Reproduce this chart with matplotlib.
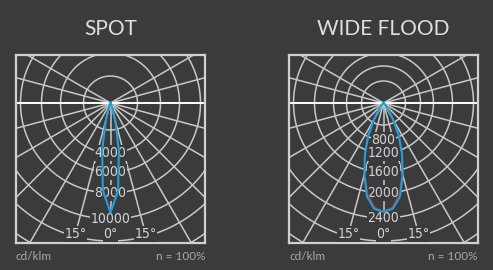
import numpy as np
import matplotlib.pyplot as plt
from matplotlib.projections.polar import PolarAxes

# Photometric data, cd/klm against angle from nadir (deg)
angles = [0, 5, 10, 15, 20, 25, 30, 35, 40, 45, 50, 55, 60, 90]

spot_c0 = [9500, 7810, 3830, 1330, 440, 150, 50, 10, 0, 0, 0, 0, 0, 0]
spot_c90 = [9500, 7650, 3800, 1330, 440, 150, 50, 10, 0, 0, 0, 0, 0, 0]
spot_rings = [2000, 4000, 6000, 8000, 10000, 12000, 14000, 16000]
spot_labels = ['4000', '6000', '8000', '10000']

wide_c0 = [2300, 2260, 2080, 1700, 1290, 780, 345, 180, 90, 36, 18, 9, 0, 0]
wide_c90 = [2300, 2230, 2030, 1670, 1280, 780, 345, 180, 90, 36, 18, 9, 0, 0]
wide_rings = [400, 800, 1200, 1600, 2000, 2400, 2800, 3200, 3600]
wide_labels = ['800', '1200', '1600', '2000', '2400']

grid_angles = [15, 30, 45, 60, 75, 90, 105, 120]
angle_ticks = ['15°', '0°', '15°']

# ring radii in pixels (the source grid is not quite linear)
spot_ring_px = [27, 50, 69, 90, 116, 138, 161, 184]
wide_ring_px = [22, 37, 50, 69, 90, 115, 138, 161, 184]

bg = '#3b3b3d'
grid_col = '#c8c8c8'
text_col = '#d4d4d4'
narrow = dict(family=['Liberation Sans Narrow', 'DejaVu Sans'], stretch='condensed')
lato = ['Lato', 'DejaVu Sans']

fig = plt.figure(figsize=(4.93, 2.70), dpi=100, facecolor=bg)
polar = PolarAxes.PolarTransform(apply_theta_transforms=False)


def panel(left, title, rings, ring_px, labels, c0, c90):
    ax = fig.add_axes([left / 493, 27 / 270, 189 / 493, 188 / 270])
    ax.set_facecolor(bg)
    ax.set_xlim(-94.5, 94.5)
    ax.set_ylim(-140, 48)
    ax.set_xticks([])
    ax.set_yticks([])
    for s in ax.spines.values():
        s.set_color('#d0d0d0')
        s.set_linewidth(1.6)
    trans = polar + ax.transData

    def rscale(v):
        return np.interp(v, [0] + rings, [0] + ring_px)

    # rings
    t = np.linspace(0, 2 * np.pi, 361)
    for rv in rings:
        ax.plot(t, np.full_like(t, rscale(rv)), color=grid_col, lw=1.1,
                transform=trans, zorder=1)
    # radial lines (angle from nadir)
    for g in grid_angles:
        for sgn in (-1, 1):
            th = np.radians(-90 + sgn * g)
            if g == 90:
                ax.plot([th, th], [0, 300], color='white', lw=1.4,
                        transform=trans, zorder=2)
            else:
                ax.plot([th, th], [0, 300], color=grid_col, lw=1.1,
                        transform=trans, zorder=1)
    ax.plot([-np.pi / 2, -np.pi / 2], [0, 300], color=grid_col, lw=1.1,
            transform=trans, zorder=1)

    # ring value labels on the 0 deg axis
    for rv, lab in zip(rings[len(rings) - len(labels) - 3:], labels):
        ax.text(-np.pi / 2, rscale(rv), lab, transform=trans, ha='center',
                va='center', fontsize=10, color=text_col, **narrow,
                bbox=dict(facecolor=bg, edgecolor='none', pad=0.4), zorder=3)

    # angle labels near the bottom
    depth = 131
    for g, lab in zip([-15, 0, 15], angle_ticks):
        ax.text(depth * np.tan(np.radians(g)), -depth, lab, ha='center',
                va='center', fontsize=10, color=text_col, **narrow,
                bbox=dict(facecolor=bg, edgecolor='none', pad=0.4), zorder=3)

    # intensity curves, mirrored about nadir
    a = np.array(angles, dtype=float)
    full_a = np.concatenate([-a[::-1], a[1:]])
    for vals, col, lw, z in [(c90, '#b8323a', 1.0, 4), (c0, '#1e9fdc', 1.5, 5)]:
        v = np.array(vals, dtype=float)
        full_v = np.concatenate([v[::-1], v[1:]])
        ax.plot(np.radians(-90 + full_a), rscale(full_v), color=col, lw=lw,
                transform=trans, zorder=z, solid_joinstyle='round')

    fig.text((left + 94.5) / 493, 1 - 29 / 270, title, ha='center', va='center',
             fontsize=15, color='#dedede', family=lato)
    fig.text(left / 493, 1 - 256 / 270, 'cd/klm', ha='left', va='center',
             fontsize=8.5, color='#a8a8a8', family=lato)
    fig.text((left + 189) / 493, 1 - 256 / 270, 'n = 100%', ha='right',
             va='center', fontsize=8.5, color='#a8a8a8', family=lato)


panel(16, 'SPOT', spot_rings, spot_ring_px, spot_labels, spot_c0, spot_c90)
panel(289, 'WIDE FLOOD', wide_rings, wide_ring_px, wide_labels, wide_c0, wide_c90)

plt.savefig('out.png', dpi=100, facecolor=bg)
